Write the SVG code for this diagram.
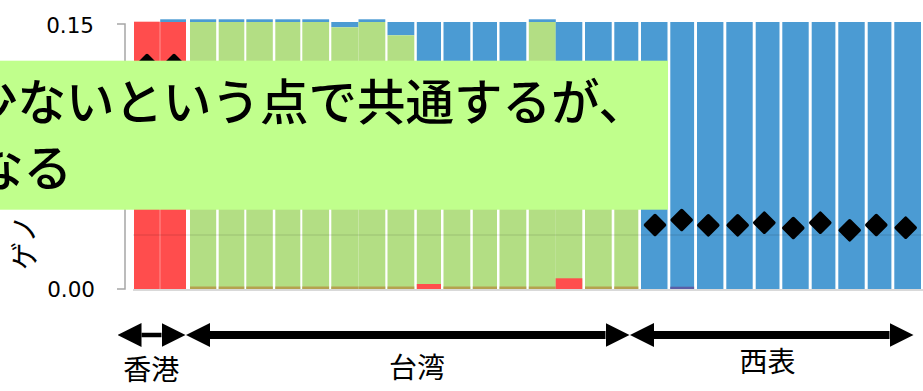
<svg xmlns="http://www.w3.org/2000/svg" width="923" height="391" viewBox="0 0 923 391">
  <style>
    .r { fill: #ff4d4d; }
    .g { fill: #b3de84; }
    .b { fill: #4b9bd3; }
    .o { fill: #b5a24f; }
    .p { fill: #5b5ea6; }
    .axis { stroke: #a6a6a6; stroke-width: 1.5; fill: none; }
    .tick { font-family: "DejaVu Sans", sans-serif; font-size: 21.5px; fill: #000; text-anchor: end; }
    .jp { font-family: "Noto Sans CJK JP", "Noto Sans", sans-serif; fill: #000; }
    .lbl { font-size: 28px; text-anchor: middle; }
    .call { font-size: 48.5px; font-weight: 500; }
    .dia { fill: #000; stroke: #000; stroke-width: 3.5; stroke-linejoin: round; }
    .shaft { stroke: #000; fill: none; }
  </style>
  <defs>
    <marker id="head" viewBox="0 0 24 24" markerUnits="userSpaceOnUse" markerWidth="24" markerHeight="24" refX="0" refY="12" orient="auto-start-reverse">
      <path d="M0,0 L24,12 L0,24 Z" fill="#000"/>
    </marker>
    <polygon id="d" points="0,-9.5 9.5,0 0,9.5 -9.5,0"/>
  </defs>
  <rect width="923" height="391" fill="#fff"/>

  <g id="bars">
    <rect class="r" x="134" y="21.7" width="25.8" height="267.3"/>
    <rect class="b" x="160.2" y="19.3" width="25.8" height="2.7"/>
    <rect class="r" x="160.2" y="22" width="25.8" height="267"/>
    <rect class="b" x="190" y="19.3" width="26.2" height="2.7"/><rect class="g" x="190" y="22" width="26.2" height="267"/><rect class="o" x="190" y="286.5" width="26.2" height="2.5"/>
    <rect class="b" x="218.7" y="19.3" width="25.6" height="2.7"/><rect class="g" x="218.7" y="22" width="25.6" height="267"/><rect class="o" x="218.7" y="286.5" width="25.6" height="2.5"/>
    <rect class="b" x="246.3" y="19.3" width="26.5" height="2.7"/><rect class="g" x="246.3" y="22" width="26.5" height="267"/><rect class="o" x="246.3" y="286.5" width="26.5" height="2.5"/>
    <rect class="b" x="275.3" y="19.3" width="25" height="2.7"/><rect class="g" x="275.3" y="22" width="25" height="267"/><rect class="o" x="275.3" y="286.5" width="25" height="2.5"/>
    <rect class="b" x="302.3" y="19.3" width="26.8" height="2.7"/><rect class="g" x="302.3" y="22" width="26.8" height="267"/><rect class="o" x="302.3" y="286.5" width="26.8" height="2.5"/>
    <rect class="b" x="331.3" y="22" width="27.2" height="5.3"/><rect class="g" x="331.3" y="27.3" width="27.2" height="261.7"/><rect class="o" x="331.3" y="286.5" width="27.2" height="2.5"/>
    <rect class="b" x="358.5" y="19.3" width="26.8" height="2.7"/><rect class="g" x="358.5" y="22" width="26.8" height="267"/><rect class="o" x="358.5" y="286.5" width="26.8" height="2.5"/>
    <rect class="b" x="387.5" y="22" width="26.8" height="13.3"/><rect class="g" x="387.5" y="35.3" width="26.8" height="253.7"/><rect class="o" x="387.5" y="286.5" width="26.8" height="2.5"/>
    <rect class="b" x="416.8" y="22" width="24.2" height="100"/><rect class="g" x="416.8" y="122" width="24.2" height="167"/><rect class="r" x="416.8" y="284" width="24.2" height="5"/>
    <rect class="b" x="443.5" y="22" width="26.8" height="100"/><rect class="g" x="443.5" y="122" width="26.8" height="167"/><rect class="o" x="443.5" y="286.5" width="26.8" height="2.5"/>
    <rect class="b" x="472.8" y="22" width="24.2" height="100"/><rect class="g" x="472.8" y="122" width="24.2" height="167"/><rect class="o" x="472.8" y="286.5" width="24.2" height="2.5"/>
    <rect class="b" x="499.5" y="22" width="26.8" height="100"/><rect class="g" x="499.5" y="122" width="26.8" height="167"/><rect class="o" x="499.5" y="286.5" width="26.8" height="2.5"/>
    <rect class="b" x="528.8" y="19.3" width="27" height="2.7"/><rect class="g" x="528.8" y="22" width="27" height="267"/><rect class="o" x="528.8" y="286.5" width="27" height="2.5"/>
    <rect class="b" x="555.7" y="22" width="26.6" height="100"/><rect class="g" x="555.7" y="122" width="26.6" height="167"/><rect class="r" x="555.7" y="278.3" width="26.6" height="10.7"/>
    <rect class="b" x="585" y="22" width="26.7" height="100"/><rect class="g" x="585" y="122" width="26.7" height="167"/><rect class="o" x="585" y="286.5" width="26.7" height="2.5"/>
    <rect class="b" x="614.3" y="22" width="24" height="100"/><rect class="g" x="614.3" y="122" width="24" height="167"/><rect class="o" x="614.3" y="286.5" width="24" height="2.5"/>
    <rect class="b" x="641" y="22" width="26.5" height="267"/>
    <rect class="b" x="670.3" y="22" width="23.8" height="267"/><rect class="p" x="670.3" y="286.7" width="23.8" height="2.3"/>
    <rect class="b" x="697" y="22" width="26.4" height="267"/>
    <rect class="b" x="726.3" y="22" width="26.4" height="267"/>
    <rect class="b" x="755.7" y="22" width="23.8" height="267"/>
    <rect class="b" x="782.3" y="22" width="26.4" height="267"/>
    <rect class="b" x="811.7" y="22" width="23.7" height="267"/>
    <rect class="b" x="838.3" y="22" width="26.4" height="267"/>
    <rect class="b" x="867.7" y="22" width="23.7" height="267"/>
    <rect class="b" x="894.3" y="22" width="26.7" height="267"/>
  </g>

  <g id="grid">
    <line x1="133" y1="235" x2="923" y2="235" stroke="#000" stroke-opacity="0.09" stroke-width="1.5"/>
    <line x1="133" y1="290" x2="923" y2="290" stroke="#d9d9d9" stroke-width="2"/>
  </g>

  <g id="axis">
    <path class="axis" d="M117,24 H125 V289 H117"/>
    <text class="tick" x="94" y="33">0.15</text>
    <text class="tick" x="95" y="297">0.00</text>
    <text class="jp" font-size="28" transform="translate(35,270) rotate(-90)">ゲノ</text>
  </g>

  <g id="markers">
    <use href="#d" class="dia" x="147" y="65"/>
    <use href="#d" class="dia" x="174" y="65"/>
    <use href="#d" class="dia" x="655" y="225"/>
    <use href="#d" class="dia" x="681.7" y="220"/>
    <use href="#d" class="dia" x="708.3" y="225.3"/>
    <use href="#d" class="dia" x="737.7" y="225.3"/>
    <use href="#d" class="dia" x="764.3" y="222.7"/>
    <use href="#d" class="dia" x="793.3" y="228"/>
    <use href="#d" class="dia" x="820.3" y="222.7"/>
    <use href="#d" class="dia" x="849.7" y="230.3"/>
    <use href="#d" class="dia" x="876.3" y="225"/>
    <use href="#d" class="dia" x="905.7" y="227.7"/>
  </g>

  <g id="callout">
    <rect x="0" y="60.7" width="668" height="149" fill="#c0ff8c"/>
    <text class="jp call" x="-31" y="120">少ないという点で共通するが、</text>
    <text class="jp call" x="-25" y="186">なる</text>
  </g>

  <g id="connectors">
    <line class="shaft" stroke-width="4.5" x1="141.5" y1="335" x2="161.5" y2="335" marker-start="url(#head)" marker-end="url(#head)"/>
    <line class="shaft" stroke-width="8" x1="210" y1="335" x2="605.5" y2="335" marker-start="url(#head)" marker-end="url(#head)"/>
    <line class="shaft" stroke-width="8" x1="654" y1="335" x2="889.5" y2="335" marker-start="url(#head)" marker-end="url(#head)"/>
  </g>

  <g id="label-hongkong"><text class="jp lbl" x="151.3" y="380">香港</text></g>
  <g id="label-taiwan"><text class="jp lbl" x="417" y="378">台湾</text></g>
  <g id="label-iriomote"><text class="jp lbl" x="767.5" y="372">西表</text></g>
</svg>
